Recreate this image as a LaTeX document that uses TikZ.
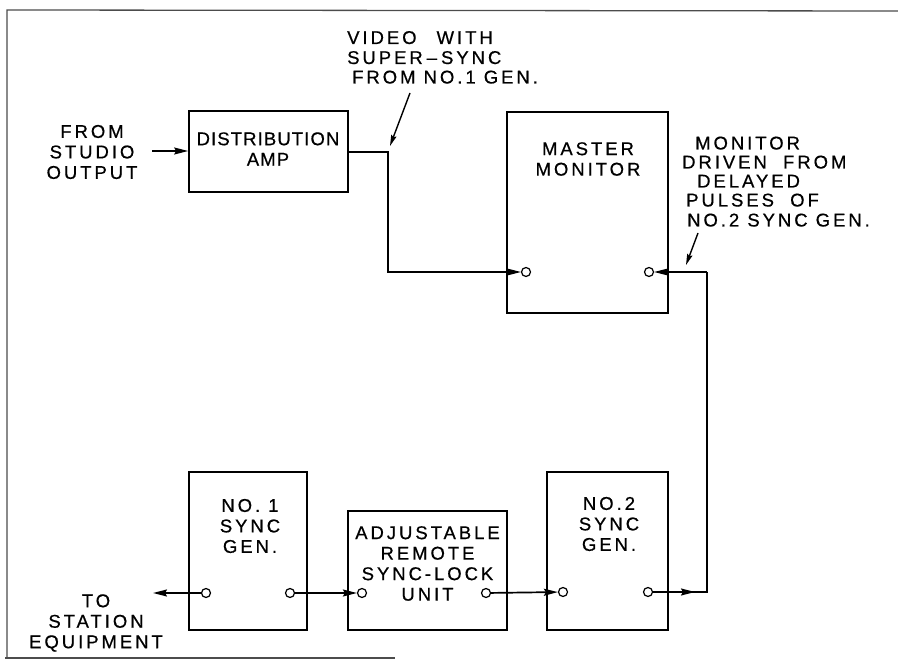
\documentclass[tikz,border=0pt]{standalone}
\usepackage{fontspec}
\setmainfont{Liberation Sans}[LetterSpace=16,FakeBold=0.6]
\newfontfamily\tightfont{Liberation Sans}[LetterSpace=6,FakeBold=0.6]
\usetikzlibrary{arrows.meta}
\begin{document}
\begin{tikzpicture}[x=1pt,y=-1pt,
  box/.style={draw, line width=1.7pt, inner sep=0pt},
  lbl/.style={align=center, inner sep=0pt, font=\fontsize{18.5}{20.5}\selectfont},
  ln/.style={anchor=base west, inner sep=0pt, font=\fontsize{18.5}{20.5}\selectfont},
  port/.style={circle, draw, fill=white, line width=1.2pt, minimum size=9pt, inner sep=0pt},
  wire/.style={line width=1.7pt},
  arr/.style={wire, -{Stealth[length=14pt,width=7pt,inset=2pt]}},
  note/.style={line width=1.4pt, -{Stealth[length=11pt,width=5.5pt,inset=1.5pt]}},
  frame/.style={draw=black!70, line width=1.3pt}
]
\useasboundingbox (0,0) rectangle (898,660);
% partial frame
\draw[frame] (898,11) -- (7,10) -- (7,658);
\draw[frame] (5,658) -- (395,658);

% boxes
\node[box, minimum width=159pt, minimum height=81pt] (dist) at (268.5,151.5) {};
\node[box, minimum width=161pt, minimum height=201pt] (master) at (587.5,212.5) {};
\node[box, minimum width=118pt, minimum height=158pt] (sync1) at (248,551) {};
\node[box, minimum width=159pt, minimum height=119pt] (adj) at (427.5,570.5) {};
\node[box, minimum width=121pt, minimum height=158pt] (sync2) at (607.5,551) {};

% box texts
\node[lbl, font=\fontsize{18.5}{20.5}\selectfont\tightfont] (tdist) at (268,149) {DISTRIBUTION\\AMP};
\node[lbl] (tmaster) at (588,159) {MASTER\\MONITOR};
\node[lbl] (tsync1) at (250,526) {NO. 1\\SYNC\\GEN.};
\node[lbl] (tadj) at (427.5,563.5) {ADJUSTABLE\\REMOTE\\SYNC-LOCK\\UNIT};
\node[lbl] (tsync2) at (609,524) {NO.\,2\\SYNC\\GEN.};

% outside texts
\node[lbl] (tfrom) at (92,152) {FROM\\STUDIO\\OUTPUT};
\node[lbl] (tto) at (96,623) {TO\\STATION\\EQUIPMENT};
\node[ln] (tv1) at (347,44) {VIDEO\hspace{20pt}WITH};
\node[ln] (tv2) at (347,64) {SUPER\hspace{4pt}–\hspace{4pt}SYNC};
\node[ln] (tv3) at (352,83.5) {FROM NO.1 GEN.};
\node[ln] (tm1) at (695,149.5) {MONITOR};
\node[ln] (tm2) at (682,168.5) {DRIVEN\ \ FROM};
\node[ln] (tm3) at (697,187.5) {DELAYED};
\node[ln] (tm4) at (686,206.5) {PULSES\ \ OF};
\node[ln] (tm5) at (687,226.5) {NO.2 SYNC GEN.};

% ports
\node[port] (min) at (526,272) {};
\node[port] (mout) at (649,272) {};
\node[port] (s1l) at (206,593) {};
\node[port] (s1r) at (290,593) {};
\node[port] (al) at (362,593) {};
\node[port] (ar) at (486,593) {};
\node[port] (s2l) at (563,592) {};
\node[port] (s2r) at (648,592) {};

% coordinates
\coordinate (studio) at (152,151);
\coordinate (station) at (153,593);
\coordinate (j1) at (388,152);
\coordinate (j2) at (388,272);
\coordinate (k1) at (707,592);
\coordinate (k2) at (707,272);
\coordinate (kmid) at (695,592);
\coordinate (n1s) at (410,93);
\coordinate (n1e) at (390,146);
\coordinate (n2s) at (698,233);
\coordinate (n2e) at (686,265);

% connectors
\draw[arr] (studio) -- (dist.west |- studio);
\draw[arr] (dist.east |- j1) -- (j1) -- (j2) -- (min);
\draw[wire] (s2r) -- (k1) -- (k2);
\draw[arr] (k2) -- (mout);
\draw[arr] (s2r) -- (kmid);
\draw[arr] (s1l) -- (station);
\draw[arr] (s1r) -- (al);
\draw[arr] (ar) -- (s2l);

% note arrows
\draw[note] (n1s) -- (n1e);
\draw[note] (n2s) -- (n2e);
\end{tikzpicture}
\end{document}
